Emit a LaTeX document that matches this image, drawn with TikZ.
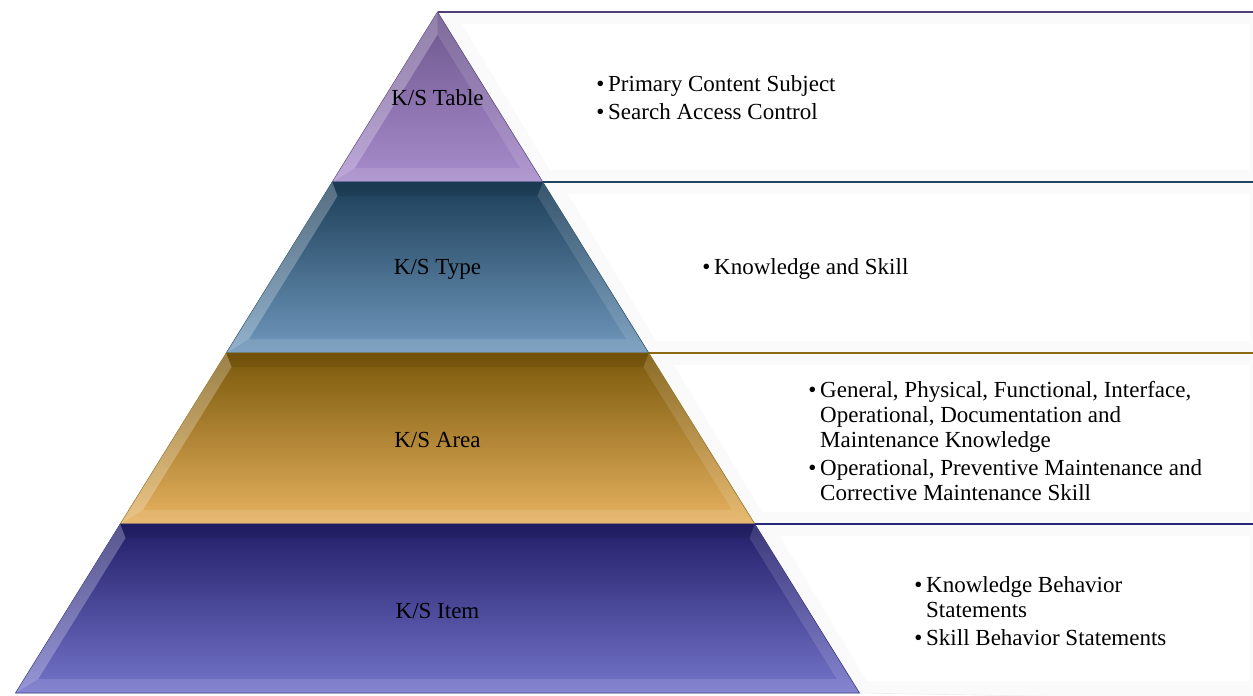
\documentclass[tikz,border=0pt]{standalone}
\usepackage{fontspec}
\setmainfont{Liberation Serif}
\usetikzlibrary{positioning}

\definecolor{tabtop}{RGB}{108,86,140}
\definecolor{tabbot}{RGB}{168,140,204}
\definecolor{tabline}{RGB}{84,62,118}
\definecolor{typtop}{RGB}{28,62,88}
\definecolor{typbot}{RGB}{112,152,188}
\definecolor{typline}{RGB}{30,70,96}
\definecolor{aretop}{RGB}{122,88,10}
\definecolor{arebot}{RGB}{230,178,96}
\definecolor{areline}{RGB}{140,105,20}
\definecolor{itmtop}{RGB}{34,30,104}
\definecolor{itmbot}{RGB}{116,116,202}
\definecolor{itmline}{RGB}{40,40,120}

\tikzset{
  panel/.style={fill=gray!4, draw=gray!14, line width=0.6pt},
  panelin/.style={fill=white},
  lvltext/.style={font=\fontsize{23}{25}\selectfont},
  bullets/.style={anchor=west, align=left, inner sep=0pt, font=\fontsize{23}{25}\selectfont},
  litebevel/.style={fill=white, fill opacity=0.25},
  halfbevel/.style={fill=white, fill opacity=0.12},
  darkbevel/.style={fill=black, fill opacity=0.08},
}

\begin{document}
\begin{tikzpicture}[x=1pt, y=-1pt]
\useasboundingbox (0,0) rectangle (1253,696);

% panels behind the pyramid
\draw[panel] (437.5,12) -- (1265,12) -- (1265,182) -- (542.8,182) -- cycle;
\fill[panelin] (462,24) -- (1250,24) -- (1250,170) -- (550,170) -- cycle;
\draw[panel] (542.8,182) -- (1265,182) -- (1265,353) -- (648.8,353) -- cycle;
\fill[panelin] (568,194) -- (1250,194) -- (1250,341) -- (656,341) -- cycle;
\draw[panel] (648.8,353) -- (1265,353) -- (1265,524) -- (754.8,524) -- cycle;
\fill[panelin] (674,365) -- (1250,365) -- (1250,512) -- (762,512) -- cycle;
\draw[panel] (754.8,524) -- (1265,524) -- (1265,700) -- (859.5,693) -- cycle;
\fill[panelin] (780,536) -- (1250,536) -- (1250,681) -- (867,681) -- cycle;

\coordinate (t1) at (437.5,12);
\coordinate (t2) at (542.8,182);
\coordinate (t3) at (648.8,353);
\coordinate (t4) at (754.8,524);
\coordinate (e1) at (1253,12);
\coordinate (e2) at (1253,182);
\coordinate (e3) at (1253,353);
\coordinate (e4) at (1253,524);
\draw[tabline, line width=2.4pt] (t1) -- (e1);
\draw[typline, line width=2.4pt] (t2) -- (e2);
\draw[areline, line width=2.4pt] (t3) -- (e3);
\draw[itmline, line width=2.4pt] (t4) -- (e4);

% pyramid levels
\shade[top color=tabtop, bottom color=tabbot, draw=tabline, line width=0.6pt]
  (437.5,12) -- (542.8,182) -- (332.2,182) -- cycle;
\fill[litebevel] (437.5,12) -- (437.5,34.6) -- (354.8,168) -- (332.2,182) -- cycle;
\fill[halfbevel] (437.5,12) -- (437.5,34.6) -- (520.2,168) -- (542.8,182) -- cycle;
\fill[halfbevel] (332.2,182) -- (354.8,168) -- (520.2,168) -- (542.8,182) -- cycle;

\shade[top color=typtop, bottom color=typbot, draw=typline, line width=0.6pt]
  (332.2,182) -- (542.8,182) -- (648.8,353) -- (226.2,353) -- cycle;
\fill[darkbevel] (332.2,182) -- (542.8,182) -- (537.5,196) -- (337.5,196) -- cycle;
\fill[litebevel] (332.2,182) -- (337.5,196) -- (248.9,339) -- (226.2,353) -- cycle;
\fill[halfbevel] (542.8,182) -- (537.5,196) -- (626.1,339) -- (648.8,353) -- cycle;
\fill[halfbevel] (226.2,353) -- (248.9,339) -- (626.1,339) -- (648.8,353) -- cycle;

\shade[top color=aretop, bottom color=arebot, draw=areline, line width=0.6pt]
  (226.2,353) -- (648.8,353) -- (754.8,524) -- (120.2,524) -- cycle;
\fill[darkbevel] (226.2,353) -- (648.8,353) -- (643.5,367) -- (231.5,367) -- cycle;
\fill[litebevel] (226.2,353) -- (231.5,367) -- (142.9,510) -- (120.2,524) -- cycle;
\fill[halfbevel] (648.8,353) -- (643.5,367) -- (732.1,510) -- (754.8,524) -- cycle;
\fill[halfbevel] (120.2,524) -- (142.9,510) -- (732.1,510) -- (754.8,524) -- cycle;

\shade[top color=itmtop, bottom color=itmbot, draw=itmline, line width=0.6pt]
  (120.2,524) -- (754.8,524) -- (859.5,693) -- (15.5,693) -- cycle;
\fill[darkbevel] (120.2,524) -- (754.8,524) -- (749.5,538) -- (125.5,538) -- cycle;
\fill[litebevel] (120.2,524) -- (125.5,538) -- (38.2,679) -- (15.5,693) -- cycle;
\fill[halfbevel] (754.8,524) -- (749.5,538) -- (836.8,679) -- (859.5,693) -- cycle;
\fill[halfbevel] (15.5,693) -- (38.2,679) -- (836.8,679) -- (859.5,693) -- cycle;

% level names
\node[lvltext] (table) at (437.5,98) {K/S Table};
\node[lvltext] (type) at (437.5,269) {K/S Type};
\node[lvltext] (area) at (437.5,440) {K/S Area};
\node[lvltext] (item) at (437.5,611) {K/S Item};

% bullet texts
\node[bullets] (tablist) at (608,98) {\llap{\textbullet\,}Primary Content Subject\\[3pt]
  \llap{\textbullet\,}Search Access Control};
\node[bullets] (typlist) at (714,269) {\llap{\textbullet\,}Knowledge and Skill};
\node[bullets] (arelist) at (820,441) {\llap{\textbullet\,}General, Physical, Functional, Interface,\\
  Operational, Documentation and\\
  Maintenance Knowledge\\[3pt]
  \llap{\textbullet\,}Operational, Preventive Maintenance and\\
  Corrective Maintenance Skill};
\node[bullets] (itmlist) at (926,611) {\llap{\textbullet\,}Knowledge Behavior\\
  Statements\\[3pt]
  \llap{\textbullet\,}Skill Behavior Statements};
\end{tikzpicture}
\end{document}
